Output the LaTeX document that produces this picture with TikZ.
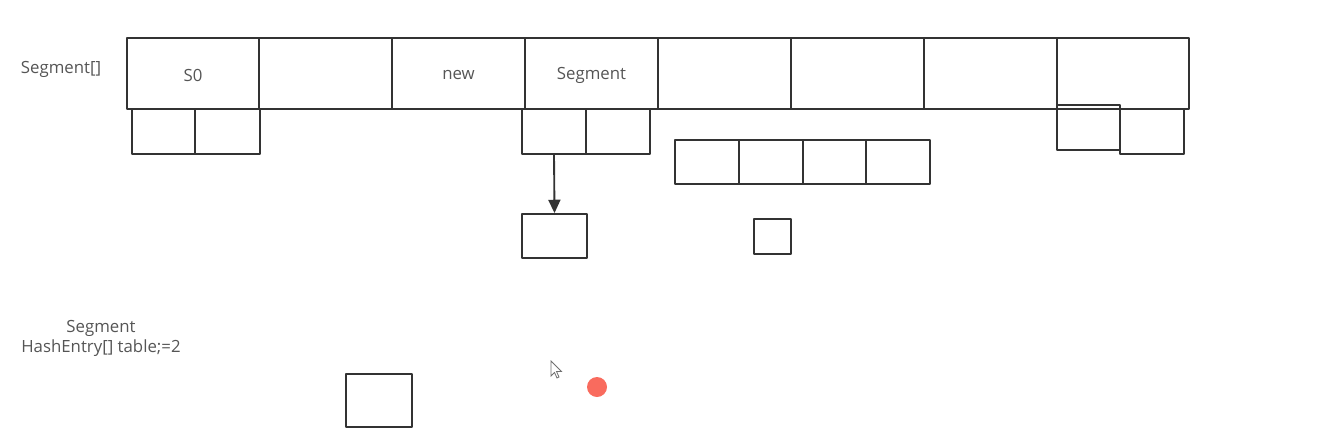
\documentclass[tikz,border=0pt]{standalone}
\usepackage{fontspec}
\setmainfont{Open Sans}
\usetikzlibrary{arrows.meta}
\definecolor{ln}{HTML}{333333}
\definecolor{tx}{HTML}{555555}
\definecolor{dot}{HTML}{F96B5E}
\begin{document}
\begin{tikzpicture}[x=0.75pt,y=-0.75pt,
  cell/.style={draw=ln,line width=1.4pt,line join=round},
  lbl/.style={text=tx,font=\fontsize{12.6}{15}\selectfont,inner sep=0pt},
  conn/.style={draw=ln,line width=1.4pt,-{Triangle[length=10pt,width=9pt]}}]
\useasboundingbox (0,0) rectangle (1328,436);
% top array
\foreach \a/\b [count=\i] in {127/259,259/392,392/525,525/658,658/791,791/924,924/1057,1057/1189}{
  \draw[cell] (\a,38) rectangle (\b,109);
  \node[inner sep=0pt] (top\i) at ({(\a+\b)/2},75) {};
}
\node[lbl] (s0) at (top1) {S0};
\node[lbl] (new) at (top3) {new};
\node[lbl] (seg) at (top4) {Segment};
\node[lbl] (arr) at (61,69.5) {Segment[]};
% small boxes under S0
\draw[cell] (132,109) rectangle (195,154);
\draw[cell] (195,109) rectangle (260,154);
% small boxes under Segment
\draw[cell] (522,109) rectangle (586,154);
\draw[cell] (586,109) rectangle (650,154);
\coordinate (af) at (554,154);
% row of four
\foreach \a/\b in {675/739,739/803,803/866,866/930}{
  \draw[cell] (\a,140) rectangle (\b,184);
}
% last cell boxes
\draw[cell] (1057,105) rectangle (1120,150);
\draw[cell] (1120,109) rectangle (1184,154);
% target box
\node[cell,minimum width=48.75pt,minimum height=33pt,inner sep=0pt] (tgt) at (554.5,236) {};
\draw[conn] (af) -- (tgt.north);
% small square
\draw[cell] (754,219) rectangle (791,254);
% bottom box
\draw[cell] (346,374) rectangle (412,427);
% bottom text
\node[lbl,align=center,font=\fontsize{12.6}{15}\selectfont] (txt) at (101,338.5) {Segment\\HashEntry[] table;=2};
% cursor
\draw[ln!70,line width=0.6pt,fill=white] (551,361) -- (551,376) -- (554.5,372.5) -- (557,378) -- (559,377) -- (556.5,371.5) -- (561.5,371.5) -- cycle;
% red dot
\fill[dot] (597,387) circle (7.5pt);
\end{tikzpicture}
\end{document}
